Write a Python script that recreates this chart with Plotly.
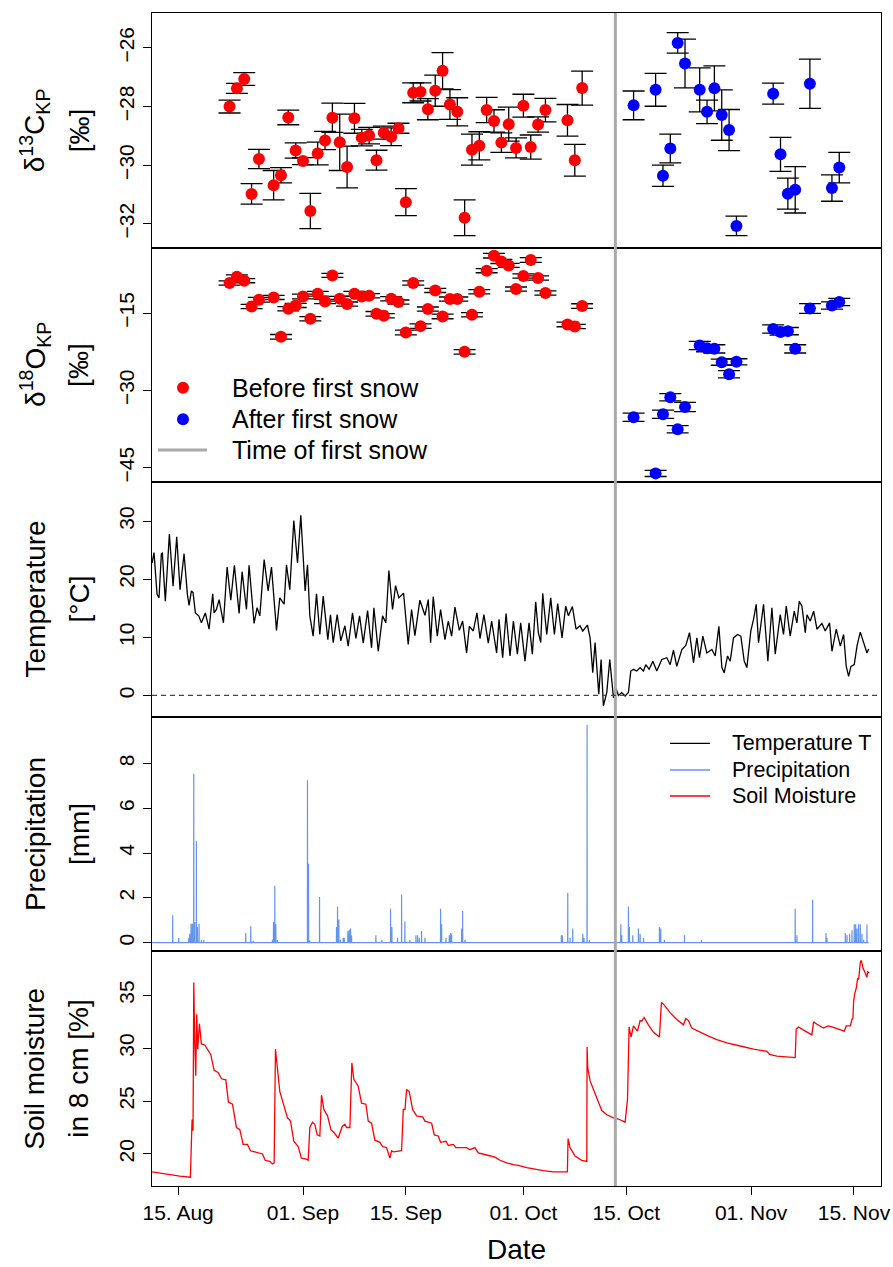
import pandas as pd
import plotly.graph_objects as go
from plotly.subplots import make_subplots

BASE = pd.Timestamp("2014-08-15")

# ---------------- isotope data (daily samples) ----------------
before_dates = ["2014-08-22", "2014-08-23", "2014-08-24", "2014-08-25", "2014-08-26", "2014-08-28",
                "2014-08-29", "2014-08-30", "2014-08-31", "2014-09-01", "2014-09-02", "2014-09-03",
                "2014-09-04", "2014-09-05", "2014-09-06", "2014-09-07", "2014-09-08", "2014-09-09",
                "2014-09-10", "2014-09-11", "2014-09-12", "2014-09-13", "2014-09-14", "2014-09-15",
                "2014-09-16", "2014-09-17", "2014-09-18", "2014-09-19", "2014-09-20", "2014-09-21",
                "2014-09-22", "2014-09-23", "2014-09-24", "2014-09-25", "2014-09-26", "2014-09-27",
                "2014-09-28", "2014-09-29", "2014-09-30", "2014-10-01", "2014-10-02", "2014-10-03",
                "2014-10-04", "2014-10-07", "2014-10-08", "2014-10-09"]
d13c_before = [-28.00, -27.38, -27.06, -30.98, -29.79, -30.68, -30.34, -28.37, -29.50, -29.86,
               -31.56, -29.60, -29.16, -28.38, -29.22, -30.06, -28.40, -29.06, -28.99, -29.83,
               -28.89, -29.03, -28.74, -31.26, -27.53, -27.50, -28.09, -27.46, -26.78, -27.93,
               -28.18, -31.79, -29.47, -29.34, -28.12, -28.49, -29.23, -28.60, -29.41, -27.97,
               -29.38, -28.61, -28.12, -28.47, -29.83, -27.37]
d13c_before_err = [0.22, 0.17, 0.22, 0.35, 0.33, 0.50, 0.26, 0.25, 0.26, 0.12,
                   0.60, 0.39, 0.31, 0.50, 0.96, 0.71, 0.51, 0.28, 0.28, 0.34,
                   0.22, 0.30, 0.17, 0.46, 0.34, 0.31, 0.36, 0.53, 0.62, 0.51,
                   0.48, 0.61, 0.53, 0.48, 0.43, 0.38, 0.33, 0.58, 0.34, 0.39,
                   0.41, 0.26, 0.40, 0.54, 0.54, 0.58]
d18o_before = [-9.17, -7.95, -8.72, -13.72, -12.42, -11.97, -19.60, -14.16, -13.52, -11.78,
               -16.10, -11.25, -12.75, -7.69, -12.22, -13.25, -11.25, -11.78, -11.64, -15.14,
               -15.52, -12.22, -12.86, -18.77, -9.17, -17.53, -14.22, -10.61, -15.65, -12.28,
               -12.28, -22.52, -15.33, -10.86, -6.78, -3.87, -4.98, -5.75, -10.34, -7.81,
               -4.70, -8.20, -11.11, -17.20, -17.60, -13.64]
d18o_before_err = [0.40, 0.35, 0.40, 0.40, 0.45, 0.40, 0.45, 0.40, 0.40, 0.45,
                   0.40, 0.45, 0.40, 0.40, 0.45, 0.40, 0.45, 0.40, 0.40, 0.45,
                   0.40, 0.40, 0.40, 0.45, 0.40, 0.45, 0.40, 0.40, 0.45, 0.40,
                   0.40, 0.45, 0.40, 0.40, 0.40, 0.45, 0.40, 0.40, 0.40, 0.40,
                   0.45, 0.40, 0.40, 0.45, 0.40, 0.45]

after_dates = ["2014-10-16", "2014-10-19", "2014-10-20", "2014-10-21", "2014-10-22", "2014-10-23",
               "2014-10-25", "2014-10-26", "2014-10-27", "2014-10-28", "2014-10-29", "2014-10-30",
               "2014-11-04", "2014-11-05", "2014-11-06", "2014-11-07", "2014-11-09", "2014-11-12",
               "2014-11-13"]
d13c_after = [-27.96, -27.43, -30.36, -29.43, -25.83, -26.53, -27.43, -28.18, -27.38, -28.29,
              -28.80, -32.07, -27.56, -29.63, -30.97, -30.84, -27.22, -30.78, -30.08]
d13c_after_err = [0.49, 0.56, 0.36, 0.49, 0.35, 0.83, 0.75, 0.40, 0.77, 0.86,
                  0.70, 0.33, 0.36, 0.58, 0.53, 0.79, 0.84, 0.45, 0.52]
d18o_after = [-35.20, -46.09, -34.62, -31.32, -37.54, -33.20, -21.29, -21.80, -21.94, -24.52,
              -26.85, -24.46, -18.10, -18.69, -18.50, -21.94, -14.10, -13.52, -12.86]
d18o_after_err = [0.80, 0.60, 0.80, 0.70, 0.70, 0.90, 0.80, 0.70, 0.80, 0.60,
                  0.70, 0.60, 0.80, 0.60, 0.70, 0.80, 0.95, 0.70, 0.70]

first_snow_day = 59.52  # days after 15 Aug

# ---------------- temperature (days after 15 Aug, degC) ----------------
temp_day = [-3.55, -3.28, -2.87, -2.6, -2.28, -2.15, -1.74, -1.19, -0.69, -0.19, 0.26, 0.81, 1.26,
            1.49, 1.81, 2.03, 2.35, 2.8, 3.17, 3.71, 4.21, 4.71, 4.9, 5.21, 5.58, 6.17, 6.67, 7.17,
            7.66, 8.3, 8.71, 9.3, 9.66, 10.34, 10.75, 11.12, 11.71, 12.25, 12.71, 13.39, 13.84,
            14.43, 14.75, 15.2, 15.75, 16.25, 16.7, 17.29, 17.61, 17.93, 18.38, 18.84, 19.29,
            19.75, 20.38, 20.74, 21.11, 21.65, 22.15, 22.7, 23.15, 23.74, 24.2, 24.7, 25.2, 25.79,
            26.33, 26.65, 27.24, 27.83, 28.28, 28.69, 29.19, 29.6, 30.05, 30.69, 31.32, 31.78,
            32.23, 32.91, 33.6, 34.05, 34.37, 34.73, 35.28, 35.73, 36.32, 36.78, 37.23, 37.68,
            38.28, 38.73, 39.27, 39.64, 40.18, 40.68, 41.09, 41.63, 42.22, 42.68, 43.36, 43.68,
            44.18, 44.64, 45.18, 45.64, 46.18, 46.63, 47.22, 47.77, 48.22, 48.68, 49.04, 49.36,
            49.63, 50.18, 50.72, 51.22, 51.67, 52.26, 52.76, 53.13, 53.67, 54.17, 54.71, 55.08,
            55.72, 56.08, 56.44, 56.76, 57.26, 57.58, 57.89, 58.35, 58.76, 59.26, 59.58, 59.94,
            60.39, 60.84, 61.3, 61.62, 61.98, 62.43, 62.89, 63.34, 63.66, 64.12, 64.62, 65.16,
            65.84, 66.52, 66.98, 67.43, 67.88, 68.57, 69.11, 69.61, 70.16, 70.61, 70.97, 71.43,
            71.97, 72.66, 73.11, 73.61, 74.02, 74.33, 74.79, 75.15, 75.6, 76.15, 76.6, 77.06,
            77.42, 77.96, 78.33, 78.69, 79.01, 79.69, 80.28, 80.83, 81.28, 81.96, 82.41, 82.78,
            83.32, 83.87, 84.23, 84.55, 84.91, 85.37, 85.6, 86.05, 86.51, 86.96, 87.64, 88.09,
            88.68, 89.0, 89.59, 90.14, 90.59, 90.95, 91.27, 91.59, 92.04, 92.41, 92.86, 93.41,
            93.77, 94.0]
temp_val = [22.8, 24.6, 17.4, 16.8, 24.4, 24.5, 16.2, 27.8, 18.8, 27.3, 18.2, 24.4, 17.4,
            15.5, 18.0, 17.7, 14.2, 13.7, 12.5, 14.2, 11.4, 17.5, 14.2, 14.8, 16.5, 12.5, 22.1, 16.4,
            22.4, 14.1, 21.3, 14.8, 22.4, 12.4, 15.1, 13.7, 23.4, 18.0, 22.1, 11.2, 16.8,
            15.7, 22.5, 18.2, 30.1, 22.8, 31.0, 18.0, 22.5, 13.7, 10.2, 17.5, 10.5,
            17.1, 9.6, 13.9, 9.1, 13.9, 9.4, 12.0, 8.5, 14.2, 9.8, 13.7, 9.0, 14.6,
            8.2, 15.1, 7.6, 13.7, 12.5, 21.5, 14.8, 18.9, 16.8, 17.6, 8.8, 14.8,
            10.3, 16.4, 13.8, 16.5, 9.1, 17.0, 10.2, 14.8, 9.6, 12.8, 10.2, 15.2,
            11.2, 12.8, 7.3, 11.9, 11.1, 14.2, 9.8, 13.9, 9.0, 12.8, 7.3, 13.1,
            6.5, 14.1, 6.8, 12.8, 7.1, 12.5, 5.9, 12.5, 7.1, 16.1, 10.8, 9.1,
            17.6, 10.5, 16.8, 10.5, 15.8, 9.9, 15.4, 13.7, 15.3, 11.4, 12.0, 11.1,
            12.1, 9.9, 3.9, 9.1, 0.2, 6.2, -1.8, 0.5, 6.2, -0.4, 1.3, 0.0,
            0.5, -0.1, 0.5, 4.2, 4.5, 4.2, 4.8, 4.2, 5.3, 4.5, 5.9, 4.2,
            6.2, 6.5, 5.3, 7.8, 5.0, 7.9, 8.6, 10.8, 5.6, 9.9, 6.5, 10.2,
            7.3, 7.9, 6.8, 11.9, 4.8, 3.9, 6.8, 5.9, 9.9, 10.5, 10.2, 5.9,
            4.8, 11.1, 13.1, 15.7, 9.1, 15.7, 5.9, 15.1, 7.1, 13.9, 10.5, 15.4,
            10.2, 14.5, 12.5, 16.2, 15.4, 10.8, 13.9, 12.8, 14.5, 11.4, 12.4, 11.1,
            12.5, 7.6, 11.4, 8.5, 10.5, 5.0, 3.3, 5.0, 5.3, 8.5, 10.9, 8.8,
            7.3, 8.0]

# ---------------- precipitation events (days after 15 Aug, mm) ----------------
precip_day = [-0.74, 0.08, 1.44, 1.58, 1.76, 1.94, 2.13, 2.26, 2.49, 2.62, 2.85, 3.17, 3.49,
              9.21, 9.89, 10.21, 12.84, 12.98, 13.16, 13.3, 13.52, 17.61, 17.75, 17.93, 19.25,
              21.56, 21.7, 21.88, 22.11, 22.47, 22.61, 23.11, 23.29, 23.47, 23.61, 26.92, 27.74,
              28.92, 29.1, 29.87, 30.42, 30.87, 31.55, 32.37, 32.6, 32.83, 33.14, 33.6, 35.73,
              35.87, 36.46, 36.91, 37.09, 37.23, 38.6, 38.73, 39.05, 52.17, 52.3, 53.04, 53.35,
              53.72, 55.08, 55.26, 55.67, 55.99, 60.26, 60.39, 61.3, 61.43, 61.89, 62.66, 62.89,
              63.35, 65.52, 65.7, 66.2, 68.93, 71.24, 84.0, 84.23, 86.37, 88.19, 88.32, 90.82,
              91.05, 91.41, 91.73, 92.04, 92.23, 92.41, 92.63, 92.86, 93.09, 93.32, 93.77]
precip_mm = [1.22, 0.22, 0.22, 0.4, 0.85, 0.85, 7.55, 0.92, 4.53, 0.7, 0.85, 0.13, 0.13,
             0.43, 0.73, 0.1, 0.13, 0.92, 2.53, 0.82, 0.13, 7.26, 3.53, 0.1, 2.04,
             0.7, 1.62, 1.03, 0.13, 0.22, 0.22, 0.52, 0.58, 0.63, 0.33, 0.33, 0.13,
             1.52, 0.7, 0.22, 2.15, 0.95, 0.13, 0.33, 0.33, 0.22, 0.52, 0.22, 1.52,
             0.82, 0.22, 0.33, 0.43, 0.4, 0.63, 1.42, 0.13, 0.33, 0.33, 2.22, 0.22,
             0.63, 0.4, 0.22, 9.72, 0.13, 0.82, 0.33, 1.62, 0.7, 0.33, 0.63, 0.4,
             0.22, 0.7, 0.63, 0.13, 0.33, 0.13, 1.52, 0.33, 1.92, 0.43, 0.22, 0.43,
             0.33, 0.4, 0.55, 0.82, 0.82, 0.63, 0.82, 0.82, 0.4, 0.13, 0.82]
precip_start_day, precip_end_day = -3.55, 94.0

# ---------------- soil moisture (days after 15 Aug, %) ----------------
soil_day = [-3.55, -2.73, -1.15, 0.22, 1.67, 1.76, 1.9, 2.03, 2.13, 2.26, 2.4, 2.53, 2.67, 2.9,
            3.17, 3.62, 3.94, 4.44, 4.9, 5.44, 5.9, 6.49, 6.85, 7.4, 7.94, 8.4, 8.85, 9.44, 9.85,
            10.53, 11.48, 11.85, 12.48, 12.84, 13.07, 13.25, 13.48, 13.84, 14.3, 14.89, 15.3,
            15.75, 16.34, 16.79, 17.47, 17.7, 17.93, 18.29, 18.61, 18.93, 19.29, 19.52, 19.84,
            20.34, 20.8, 21.25, 21.79, 22.34, 22.7, 22.93, 23.38, 23.65, 23.92, 24.51, 24.97,
            25.56, 25.88, 26.33, 26.79, 27.47, 27.83, 28.37, 28.83, 29.06, 29.29, 29.97, 30.42,
            30.65, 30.88, 31.1, 31.46, 31.92, 32.46, 33.28, 33.6, 34.51, 34.87, 35.41, 35.73,
            36.46, 36.78, 37.46, 37.82, 39.27, 39.72, 40.4, 40.86, 41.99, 43.13, 43.81, 44.72,
            45.63, 46.45, 47.45, 48.36, 49.72, 51.08, 52.67, 52.99, 53.08, 53.35, 54.03, 54.94,
            55.63, 55.67, 55.76, 56.08, 56.53, 56.99, 57.67, 58.35, 59.26, 59.94, 60.85, 61.17,
            61.39, 61.66, 61.98, 62.53, 62.89, 63.11, 63.43, 64.02, 64.71, 65.52, 65.79, 66.07,
            66.97, 67.88, 68.79, 69.11, 69.47, 69.92, 70.84, 71.97, 73.33, 74.7, 76.51, 78.33,
            80.15, 80.51, 81.51, 82.87, 84.0, 84.14, 84.46, 85.14, 86.27, 86.5, 86.96, 87.86,
            88.46, 89.0, 89.91, 90.68, 90.95, 91.5, 91.72, 91.86, 91.95, 92.09, 92.32, 92.5,
            92.64, 92.86, 93.0, 93.23, 93.55, 93.77, 93.86, 94.05]
soil_val = [18.3, 18.2, 18.05, 17.9, 17.8, 21.5, 23.25, 22.2, 36.2, 30.7, 27.4, 33.2, 29.9, 32.3,
            30.4, 30.3, 29.9, 29.4, 27.9, 27.7, 27.1, 27.0, 24.9, 24.7, 22.5, 22.3, 20.9, 20.9, 20.3,
            20.2, 20.0, 19.4, 19.3, 19.05, 19.15, 29.9, 28.15, 25.9, 24.8, 23.4, 23.1,
            21.2, 20.7, 19.6, 19.5, 19.4, 22.5, 23.0, 22.8, 21.8, 21.7, 25.55, 24.2,
            23.6, 22.3, 22.0, 21.5, 22.6, 22.8, 22.5, 22.5, 28.6, 27.05, 26.4, 24.8,
            24.7, 23.1, 22.9, 21.3, 21.1, 20.7, 20.6, 19.6, 20.3, 20.2, 20.3, 20.3,
            24.2, 24.2, 26.1, 25.9, 24.2, 23.6, 23.5, 23.1, 22.9, 21.8, 21.7, 21.1,
            21.2, 20.8, 20.9, 20.6, 20.6, 20.4, 20.6, 20.1, 19.9, 19.7, 19.4, 19.15,
            19.0, 18.9, 18.7, 18.62, 18.43, 18.3, 18.27, 18.3, 21.45, 20.6, 19.8, 19.4,
            19.3, 30.1, 28.15, 26.9, 26.1, 25.15, 24.1, 23.7, 23.4, 23.3, 23.0, 25.15,
            32.0, 31.05, 32.1, 31.6, 32.6, 32.55, 32.9, 32.2, 31.5, 31.05, 34.3, 34.15,
            33.35, 32.7, 32.2, 32.8, 32.6, 31.9, 31.55, 31.2, 30.8, 30.5, 30.2, 29.9,
            29.7, 29.4, 29.25, 29.15, 29.1, 31.8, 32.0, 31.7, 31.25, 32.5, 32.25, 31.9,
            32.1, 32.0, 31.8, 31.6, 32.1, 32.1, 32.7, 32.85, 34.4, 35.1, 35.7, 36.6,
            36.5, 38.1, 38.3, 37.6, 37.05, 36.7, 37.25, 37.1]

x_tick_dates = ["2014-08-15", "2014-09-01", "2014-09-15", "2014-10-01", "2014-10-15", "2014-11-01", "2014-11-15"]
x_tick_text = ["15. Aug", "01. Sep", "15. Sep", "01. Oct", "15. Oct", "01. Nov", "15. Nov"]

y_titles = [("δ<sup>13</sup>C<sub>KP</sub>", "[‰]"),
            ("δ<sup>18</sup>O<sub>KP</sub>", "[‰]"),
            ("Temperature", "[°C]"),
            ("Precipitation", "[mm]"),
            ("Soil moisture", "in 8 cm [%]")]
y_ranges = [[-32.81, -24.81], [-47.8, -2.3], [-3.67, 36.7], [-0.39, 10.09], [16.97, 39.14]]
y_ticks = [[-32, -30, -28, -26], [-45, -30, -15], [0, 10, 20, 30], [0, 2, 4, 6, 8], [20, 25, 30, 35]]


def days_to_dt(days):
    return [BASE + pd.Timedelta(days=float(d)) for d in days]


# ---------------- layout geometry (pixels) ----------------
W, H = 893, 1267
ML, MR, MT, MB = 152, 12, 13, 81
PW = W - ML - MR
PH = H - MT - MB
FONT = "Liberation Sans, Arial, sans-serif"


def px_x(px):
    return (px - ML) / PW


def px_y(py):
    return (H - MB - py) / PH


fig = make_subplots(rows=5, cols=1, shared_xaxes=True, vertical_spacing=0)

err_style = dict(type="data", color="black", thickness=1.3, width=11)
# Panel 1: d13C
fig.add_trace(go.Scatter(x=before_dates, y=d13c_before, mode="markers",
                         marker=dict(color="#FF0000", size=12),
                         error_y=dict(array=d13c_before_err, **err_style),
                         showlegend=False), row=1, col=1)
fig.add_trace(go.Scatter(x=after_dates, y=d13c_after, mode="markers",
                         marker=dict(color="#0000FF", size=12),
                         error_y=dict(array=d13c_after_err, **err_style),
                         showlegend=False), row=1, col=1)
# Panel 2: d18O
fig.add_trace(go.Scatter(x=before_dates, y=d18o_before, mode="markers",
                         marker=dict(color="#FF0000", size=12),
                         error_y=dict(array=d18o_before_err, **err_style),
                         showlegend=False), row=2, col=1)
fig.add_trace(go.Scatter(x=after_dates, y=d18o_after, mode="markers",
                         marker=dict(color="#0000FF", size=12),
                         error_y=dict(array=d18o_after_err, **err_style),
                         showlegend=False), row=2, col=1)
# Panel 3: temperature
fig.add_trace(go.Scatter(x=days_to_dt(temp_day), y=temp_val, mode="lines",
                         line=dict(color="black", width=1.3), showlegend=False), row=3, col=1)
# Panel 4: precipitation (spikes from event list)
px_days, px_vals = [precip_start_day], [0.0]
for d, v in zip(precip_day, precip_mm):
    px_days += [d - 0.015, d, d + 0.015]
    px_vals += [0.0, v, 0.0]
px_days.append(precip_end_day)
px_vals.append(0.0)
fig.add_trace(go.Scatter(x=days_to_dt(px_days), y=px_vals, mode="lines",
                         line=dict(color="#6495ED", width=1.2), showlegend=False), row=4, col=1)
# Panel 5: soil moisture
fig.add_trace(go.Scatter(x=days_to_dt(soil_day), y=soil_val, mode="lines",
                         line=dict(color="#FF0000", width=1.3), showlegend=False), row=5, col=1)

x_range = days_to_dt([-3.556, 95.68])
for i in range(5):
    r = i + 1
    fig.update_xaxes(row=r, col=1, type="date", range=x_range, showgrid=False, zeroline=False,
                     showline=True, mirror=True, linecolor="black", linewidth=1.3,
                     ticks="", showticklabels=False, automargin=False)
    fig.update_yaxes(row=r, col=1, range=y_ranges[i], tickvals=y_ticks[i], showgrid=False,
                     zeroline=False, showline=True, mirror=True, linecolor="black", linewidth=1.3,
                     ticks="outside", ticklen=8, tickwidth=1.3, tickcolor="black",
                     tickangle=-90, tickfont=dict(family=FONT, size=21, color="black"),
                     automargin=False)
    fig.update_yaxes(row=r, col=1, domain=[1 - (i + 1) / 5, 1 - i / 5])

fig.update_xaxes(row=5, col=1, ticks="outside", ticklen=8, tickwidth=1.3, tickcolor="black",
                 showticklabels=True, tickvals=x_tick_dates, ticktext=x_tick_text,
                 tickfont=dict(family=FONT, size=21, color="black"))

shapes = []
# first snow line across all panels
snow_dt = BASE + pd.Timedelta(days=first_snow_day)
shapes.append(dict(type="line", xref="x", yref="paper", x0=snow_dt, x1=snow_dt, y0=0, y1=1,
                   line=dict(color="#AAAAAA", width=3), layer="above"))
# dashed zero line in temperature panel
shapes.append(dict(type="line", xref="x3 domain", yref="y3", x0=0, x1=1, y0=0, y1=0,
                   line=dict(color="#444444", width=1.2, dash="5px,4px")))

annotations = []
# y titles
for i, (l1, l2) in enumerate(y_titles):
    yc = 1 - (i + 0.5) / 5
    annotations.append(dict(text=l1, xref="paper", yref="paper", x=px_x(35), y=yc, textangle=-90,
                            showarrow=False, xanchor="center", yanchor="middle",
                            font=dict(family=FONT, size=28, color="black")))
    annotations.append(dict(text=l2, xref="paper", yref="paper", x=px_x(79), y=yc, textangle=-90,
                            showarrow=False, xanchor="center", yanchor="middle",
                            font=dict(family=FONT, size=28, color="black")))
annotations.append(dict(text="Date", xref="paper", yref="paper", x=0.5, y=px_y(1250), showarrow=False,
                        xanchor="center", yanchor="middle", font=dict(family=FONT, size=28, color="black")))

# legend 1 (panel 2)
leg1 = [("Before first snow", "#FF0000", 387.7), ("After first snow", "#0000FF", 419.3)]
for txt, col, py in leg1:
    shapes.append(dict(type="circle", xref="paper", yref="paper", xsizemode="pixel", ysizemode="pixel",
                       xanchor=px_x(183), yanchor=px_y(py), x0=-6, x1=6, y0=-6, y1=6,
                       fillcolor=col, line=dict(width=0)))
    annotations.append(dict(text=txt, xref="paper", yref="paper", x=px_x(230), y=px_y(py),
                            showarrow=False, xanchor="left", yanchor="middle",
                            font=dict(family=FONT, size=25, color="black")))
shapes.append(dict(type="line", xref="paper", yref="paper", x0=px_x(158), x1=px_x(207),
                   y0=px_y(450), y1=px_y(450), line=dict(color="#AAAAAA", width=3)))
annotations.append(dict(text="Time of first snow", xref="paper", yref="paper", x=px_x(230), y=px_y(450),
                        showarrow=False, xanchor="left", yanchor="middle",
                        font=dict(family=FONT, size=25, color="black")))

# legend 2 (panel 4)
leg2 = [("Temperature T", "black", 743.3), ("Precipitation", "#6495ED", 770), ("Soil Moisture", "#FF0000", 796)]
for txt, col, py in leg2:
    shapes.append(dict(type="line", xref="paper", yref="paper", x0=px_x(670), x1=px_x(710),
                       y0=px_y(py), y1=px_y(py), line=dict(color=col, width=1.3)))
    annotations.append(dict(text=txt, xref="paper", yref="paper", x=px_x(730), y=px_y(py),
                            showarrow=False, xanchor="left", yanchor="middle",
                            font=dict(family=FONT, size=21.5, color="black")))

fig.update_layout(width=W, height=H, margin=dict(l=ML, r=MR, t=MT, b=MB, autoexpand=False),
                  plot_bgcolor="white", paper_bgcolor="white", showlegend=False,
                  shapes=shapes, annotations=annotations,
                  font=dict(family=FONT, color="black"))

fig.write_html("out.html")
